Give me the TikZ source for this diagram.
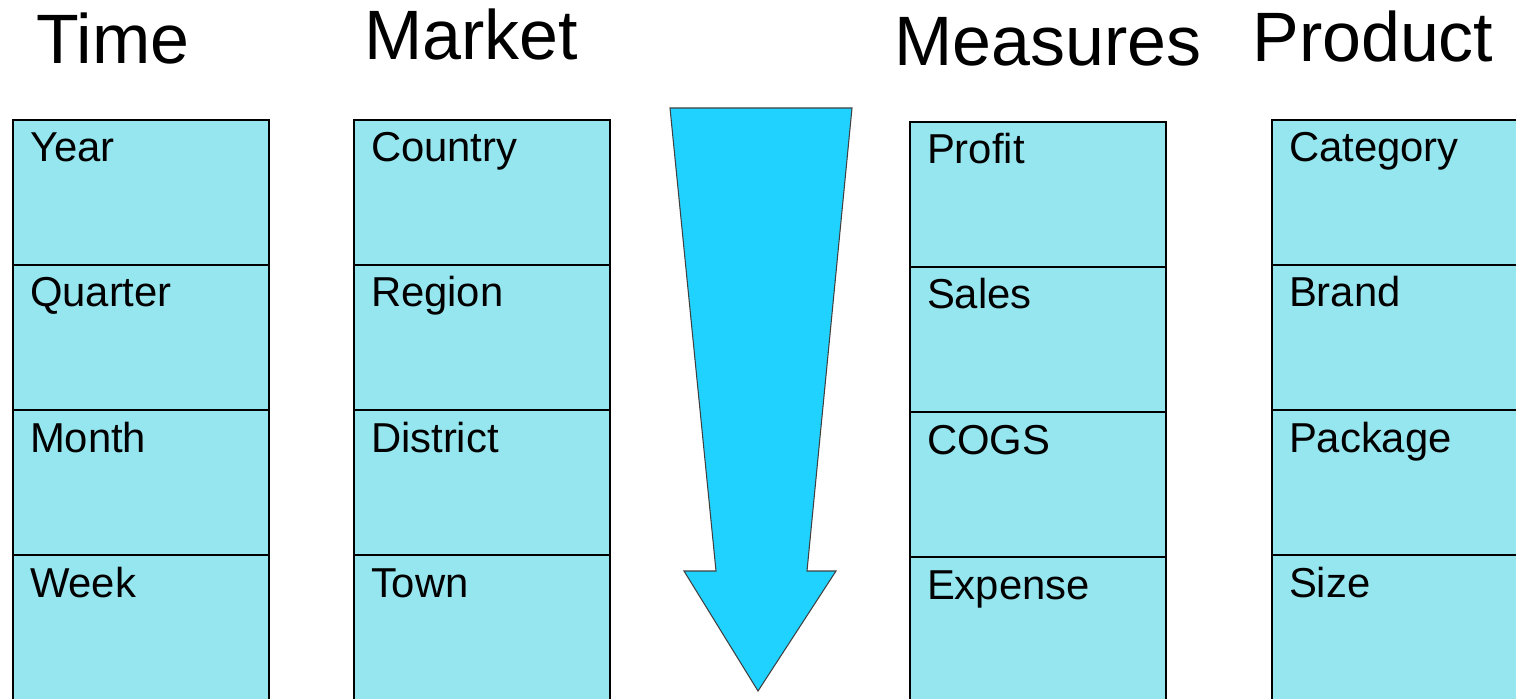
\documentclass[tikz,border=0pt]{standalone}
\usepackage{fontspec}
\setmainfont{Liberation Sans}
\usetikzlibrary{positioning}
\definecolor{cellcyan}{RGB}{150,230,240}
\definecolor{arrowcyan}{RGB}{32,210,255}
\tikzset{
  cell/.style={draw, line width=1.1pt, fill=cellcyan, anchor=north west,
    inner xsep=0.34cm, inner ysep=0pt, outer sep=0pt,
    text width=4.44cm, text height=0.84cm, text depth=2.06cm, align=left,
    font=\fontsize{23.8}{28}\selectfont},
  heading/.style={anchor=base west, inner sep=0pt, font=\fontsize{39.8}{46}\selectfont}
}
\begin{document}
\begin{tikzpicture}
		\useasboundingbox (0,0) rectangle (30.32,-13.98);
		\clip (0,0) rectangle (30.32,-13.98);
		
		% headings
		\node[heading] (time) at (0.72,-1.28) {Time};
		\node[heading] (market) at (7.28,-1.20) {Market};
		\node[heading] (measures) at (17.88,-1.32) {Measures};
		\node[heading] (product) at (25.04,-1.24) {Product};
		
		% Time
		\node[cell] (year) at (0.26,-2.40) {Year};
		\node[cell, below=0pt of year] (quarter) {Quarter};
		\node[cell, below=0pt of quarter] (month) {Month};
		\node[cell, below=0pt of month] (week) {Week};
		
		% Market
		\node[cell] (country) at (7.08,-2.40) {Country};
		\node[cell, below=0pt of country] (region) {Region};
		\node[cell, below=0pt of region] (district) {District};
		\node[cell, below=0pt of district] (town) {Town};
		
		% Measures
		\node[cell] (profit) at (18.20,-2.44) {Profit};
		\node[cell, below=0pt of profit] (sales) {Sales};
		\node[cell, below=0pt of sales] (cogs) {COGS};
		\node[cell, below=0pt of cogs] (expense) {Expense};
		
		% Product
		\node[cell] (category) at (25.44,-2.40) {Category};
		\node[cell, below=0pt of category] (brand) {Brand};
		\node[cell, below=0pt of brand] (package) {Package};
		\node[cell, below=0pt of package] (size) {Size};
		
		% drill-down arrow
		\filldraw[fill=arrowcyan, draw=black!75, line width=0.6pt]
			(13.40,-2.16) -- (17.04,-2.16) -- (16.14,-11.42) -- (16.72,-11.42)
			-- (15.16,-13.82) -- (13.68,-11.42) -- (14.32,-11.42) -- cycle;
	\end{tikzpicture}
\end{document}
